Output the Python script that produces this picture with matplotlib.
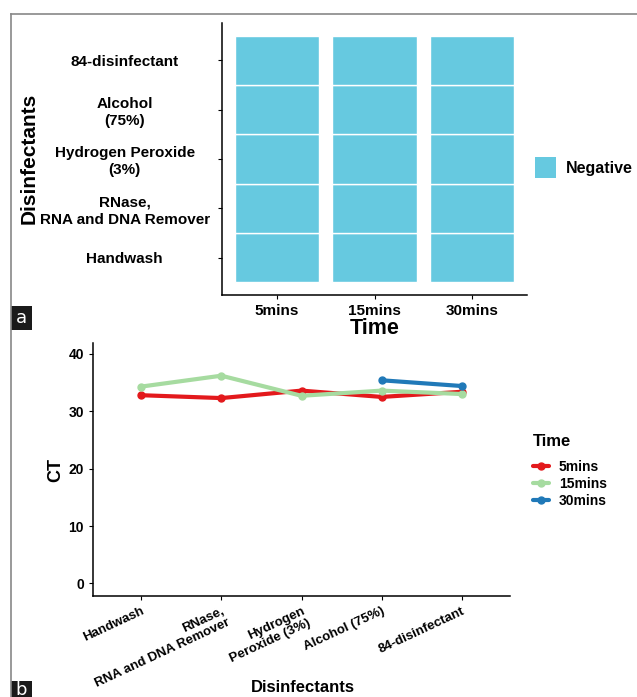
import matplotlib
matplotlib.use("Agg")
import matplotlib.pyplot as plt
import numpy as np
from matplotlib.lines import Line2D
from matplotlib.patches import Rectangle

plt.rcParams['font.family'] = ['Liberation Sans', 'DejaVu Sans']

# ---- data ----
times = ["5mins", "15mins", "30mins"]
disinf_a = ["Handwash", "RNase,\nRNA and DNA Remover", "Hydrogen Peroxide\n(3%)", "Alcohol\n(75%)", "84-disinfectant"]
result_a = ["Negative"]
disinf_b = ["Handwash", "RNase,\nRNA and DNA Remover", "Hydrogen\nPeroxide (3%)", "Alcohol (75%)", "84-disinfectant"]
ct_5 = [32.8, 32.3, 33.6, 32.5, 33.4]
ct_15 = [34.3, 36.2, 32.7, 33.6, 33.0]
ct_30 = [np.nan, np.nan, np.nan, 35.4, 34.4]
series_colors = {"5mins": "#E3191C", "15mins": "#A6DBA0", "30mins": "#2079B8"}
tile_color = "#66C9E0"

W, H = 637, 697
fig = plt.figure(figsize=(W/100, H/100), dpi=100)

def fx(x): return x / W
def fy(y): return 1 - y / H

# frame border
fig.add_artist(Line2D([fx(11), fx(11)], [fy(14), 0], color="#888888", lw=1.2))
fig.add_artist(Line2D([fx(11), 1], [fy(14), fy(14)], color="#888888", lw=1.2))

# ---- panel a ----
axa = fig.add_axes([fx(222), fy(295), fx(527) - fx(222), fy(23) - fy(295)])
tw = 0.86
for i, t in enumerate(times):
    for j, d in enumerate(disinf_a):
        axa.add_patch(Rectangle((i + 1 - tw/2, j + 1 - 0.5), tw, 1.0,
                                facecolor=tile_color, edgecolor="white", lw=1.0))
axa.set_xlim(0.44, 3.56)
axa.set_ylim(0.24, 5.76)
axa.set_xticks(range(1, len(times) + 1))
axa.set_xticklabels(times, fontsize=11, fontweight="bold")
axa.set_yticks(range(1, len(disinf_a) + 1))
axa.set_yticklabels(disinf_a, fontsize=11, fontweight="bold", ha="center", linespacing=1.25)
for lab in axa.get_yticklabels():
    lab.set_x(-0.305)
axa.tick_params(axis="y", pad=0, length=3)
axa.tick_params(axis="x", length=3)
for s in ["top", "right"]:
    axa.spines[s].set_visible(False)
axa.spines["left"].set_linewidth(1.1)
axa.spines["bottom"].set_linewidth(1.1)
axa.set_xlabel("Time", fontsize=15.5, fontweight="bold", labelpad=0)
fig.text(fx(29), fy(158), "Disinfectants", rotation=90, fontsize=15, fontweight="bold",
         ha="center", va="center")
# legend a
fig.add_artist(Rectangle((fx(535), fy(178)), fx(556) - fx(535), fy(157) - fy(178),
                         facecolor=tile_color, edgecolor="none", transform=fig.transFigure))
fig.text(fx(566), fy(168), result_a[0], fontsize=11.5, fontweight="bold", va="center", ha="left")

# panel label a
fig.add_artist(Rectangle((fx(11), fy(330)), fx(32) - fx(11), fy(306) - fy(330),
                         facecolor="#1a1a1a", edgecolor="none", transform=fig.transFigure))
fig.text(fx(21.5), fy(318), "a", color="white", fontsize=13, ha="center", va="center",
         family="DejaVu Sans")

# ---- panel b ----
axb = fig.add_axes([fx(93), fy(596), fx(510) - fx(93), fy(343) - fy(596)])
xs = np.arange(1, len(disinf_b) + 1)
for name, vals in zip(times, [ct_5, ct_15, ct_30]):
    axb.plot(xs, vals, color=series_colors[name], lw=3.0, marker="o", ms=5,
             solid_capstyle="round", label=name)
axb.set_xlim(0.4, 5.6)
axb.set_ylim(-2.2, 41.9)
axb.set_yticks([0, 10, 20, 30, 40])
axb.set_yticklabels(["0", "10", "20", "30", "40"], fontsize=10, fontweight="bold")
axb.set_xticks(xs)
axb.set_xticklabels(disinf_b, fontsize=9.5, fontweight="bold", rotation=25, ha="right",
                    rotation_mode="anchor", linespacing=1.1)
axb.tick_params(axis="both", length=3)
for s in ["top", "right"]:
    axb.spines[s].set_visible(False)
axb.spines["left"].set_linewidth(1.1)
axb.spines["bottom"].set_linewidth(1.1)
axb.set_ylabel("CT", fontsize=13, fontweight="bold", labelpad=3)
fig.text(fx(303), fy(688), "Disinfectants", fontsize=12, fontweight="bold", ha="center", va="center")

leg = axb.legend(title="Time", loc="upper left", bbox_to_anchor=(fx(520), fy(421)),
                 bbox_transform=fig.transFigure, frameon=False,
                 handlelength=1.2, handletextpad=0.7, labelspacing=0.22,
                 prop={"weight": "bold", "size": 10})
leg.get_title().set_fontweight("bold")
leg.get_title().set_fontsize(12)
leg._legend_box.align = "left"
leg._legend_box.sep = 8

# panel label b (cut by the bottom edge, as in the original)
fig.add_artist(Rectangle((fx(11), 0), fx(32) - fx(11), fy(681),
                         facecolor="#1a1a1a", edgecolor="none", transform=fig.transFigure))
fig.text(fx(21.5), fy(681), "b", color="white", fontsize=13, ha="center", va="top",
         family="DejaVu Sans")

fig.savefig("out.png", dpi=100)
